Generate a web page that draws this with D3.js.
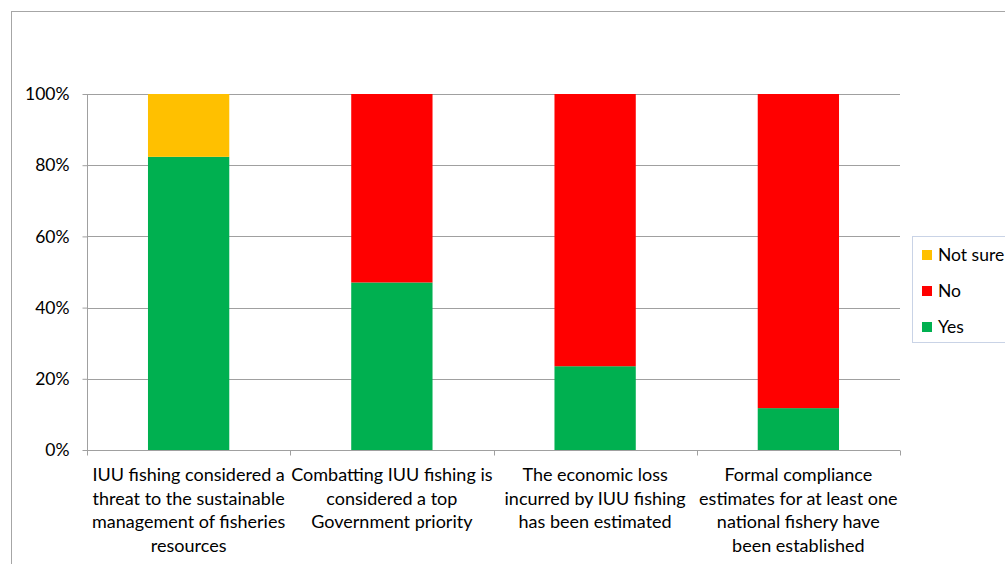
<!DOCTYPE html>
<html><head><meta charset="utf-8">
<script src="https://cdn.jsdelivr.net/npm/d3@7"></script>
<style>body{margin:0;background:#fff;} text{font-family:Lato, "Open Sans", sans-serif;fill:#000;}</style>
</head><body>
<svg id="c" width="1005" height="564"></svg>
<script>
const categories = [
  ["IUU fishing considered a","threat to the sustainable","management of fisheries","resources"],
  ["Combatting IUU fishing is","considered a top","Government priority"],
  ["The economic loss","incurred by IUU fishing","has been estimated"],
  ["Formal compliance","estimates for at least one","national fishery have","been established"]
];
const seriesNames = ["Yes","No","Not sure"];
const yes = [82.35, 47.06, 23.53, 11.76];
const no = [0, 52.94, 76.47, 88.24];
const notSure = [17.65, 0, 0, 0];
const colors = ["#00B050","#FF0000","#FFC000"];
const yTicks = [0,20,40,60,80,100];

const svg = d3.select("#c");
svg.append("rect").attr("x",11.5).attr("y",11.5).attr("width",1100).attr("height",700)
  .attr("fill","none").attr("stroke","#A6A6A6").attr("stroke-width",1);

const L=87,R=900,T=94,B=450;
const x = d3.scaleBand().domain(d3.range(categories.length)).range([L,R]).paddingInner(0.6).paddingOuter(0.3);
const xc = d3.scaleBand().domain(d3.range(categories.length)).range([L,R]);
const y = d3.scaleLinear().domain([0,100]).range([B,T]);

svg.append("g").selectAll("line").data(yTicks.filter(d=>d>0)).join("line")
  .attr("x1",L).attr("x2",R).attr("y1",d=>Math.round(y(d))+0.5).attr("y2",d=>Math.round(y(d))+0.5)
  .attr("stroke","#A0A0A0");

const data = categories.map((c,i)=>({i, Yes:yes[i], No:no[i], "Not sure":notSure[i]}));
const stack = d3.stack().keys(seriesNames)(data);
svg.append("g").selectAll("g").data(stack).join("g").attr("fill",(d,k)=>colors[k])
  .selectAll("rect").data(d=>d).join("rect")
  .attr("x",d=>x(d.data.i)).attr("width",x.bandwidth())
  .attr("y",d=>y(d[1])).attr("height",d=>y(d[0])-y(d[1]));

const ya = svg.append("g").attr("transform",`translate(${L+0.5},0)`)
  .call(d3.axisLeft(y).tickValues(yTicks).tickFormat(d=>d+"%").tickSize(5).tickPadding(13));
ya.select(".domain").attr("stroke","#A0A0A0").attr("d",`M-0,${T}V${B}`);
ya.selectAll(".tick line").attr("stroke","#A0A0A0");
ya.selectAll(".tick text").attr("font-size","17.5px").attr("font-family","Lato, sans-serif").attr("fill","#000");

const xa = svg.append("g").attr("transform",`translate(0,${B+0.5})`);
xa.append("line").attr("x1",L).attr("x2",R).attr("stroke","#A0A0A0");
xa.selectAll("line.t").data(d3.range(categories.length+1)).join("line").attr("class","t")
  .attr("x1",i=>Math.round(L+i*xc.step())+0.5).attr("x2",i=>Math.round(L+i*xc.step())+0.5)
  .attr("y1",0).attr("y2",5).attr("stroke","#A0A0A0");
categories.forEach((lines,i)=>{
  const t = svg.append("text").attr("text-anchor","middle").attr("font-size","18px")
    .attr("x",xc(i)+xc.bandwidth()/2).attr("y",481);
  lines.forEach((ln,j)=>t.append("tspan").attr("x",xc(i)+xc.bandwidth()/2).attr("dy",j?23.5:0).text(ln));
});

const lg = svg.append("g");
lg.append("rect").attr("x",912.5).attr("y",236.5).attr("width",120).attr("height",106)
  .attr("fill","#fff").attr("stroke","#C9D3E6");
const legItems = ["Not sure","No","Yes"];
legItems.forEach((n,j)=>{
  const k = seriesNames.indexOf(n);
  lg.append("rect").attr("x",922).attr("y",250+j*36).attr("width",10).attr("height",10).attr("fill",colors[k]);
  lg.append("text").attr("x",938).attr("y",261+j*36).attr("font-size","17.5px").text(n);
});
</script>
</body></html>
